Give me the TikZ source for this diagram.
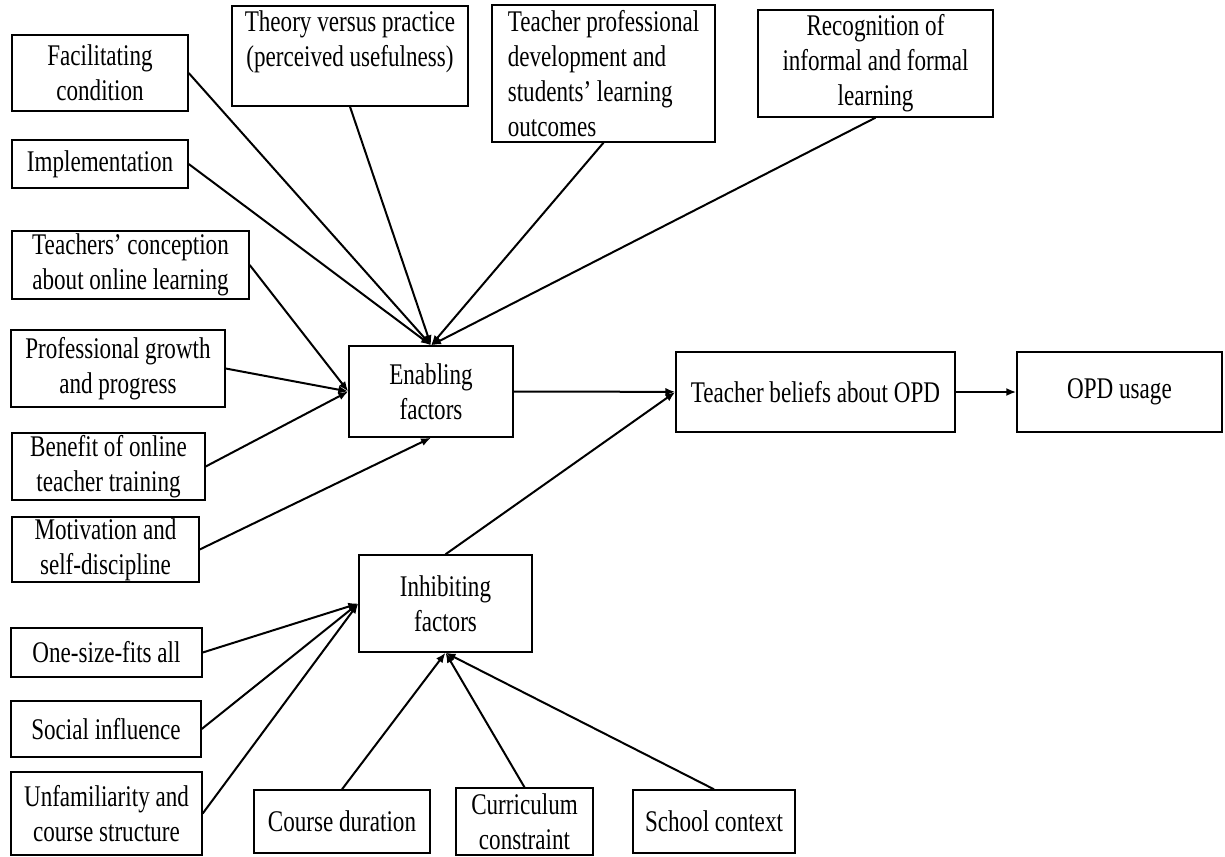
\documentclass[tikz,border=0pt]{standalone}
\usepackage{fontspec}
\setmainfont{Liberation Serif}[FakeStretch=0.77]
\usetikzlibrary{arrows.meta,positioning}
\tikzset{
  box/.style={draw, line width=0.7pt, inner sep=0pt, align=center,
    font=\fontsize{15}{17.5}\selectfont},
}
\begin{document}
\begin{tikzpicture}[x=0.5pt,y=-0.5pt,>={Latex[length=5pt,width=4pt]},line width=1pt]
  \useasboundingbox (0,0) rectangle (1225,856);
  % enabling side
  \node[box,minimum width=88pt,minimum height=38pt] (fac) at (100,73) {Facilitating\\condition};
  \node[box,minimum width=88pt,minimum height=24pt] (imp) at (100,164) {Implementation};
  \node[box,minimum width=118.5pt,minimum height=34pt] (conc) at (130.5,265) {Teachers' conception\\about online learning};
  \node[box,minimum width=107pt,minimum height=38.5pt] (prof) at (118,368.5) {Professional growth\\and progress};
  \node[box,minimum width=96.5pt,minimum height=33.5pt] (ben) at (108.5,466.5) {Benefit of online\\teacher training};
  \node[box,minimum width=93.5pt,minimum height=32.5pt] (mot) at (105.5,549.5) {Motivation and\\self-discipline};
  \node[box,minimum width=118pt,minimum height=50pt] (theory) at (350,56) {Theory versus practice\\(perceived usefulness)\\\mbox{}};
  \node[box,minimum width=111.5pt,minimum height=68.5pt,align=left] (tpd) at (603.5,73.5) {Teacher professional\\development and\\students' learning\\outcomes};
  \node[box,minimum width=117.5pt,minimum height=53.5pt] (recog) at (875.5,63.5) {Recognition of\\informal and formal\\learning};
  \node[box,minimum width=82pt,minimum height=45.5pt] (enab) at (431,391.5) {Enabling\\factors};
  \node[box,minimum width=139.5pt,minimum height=40pt] (tb) at (815.5,392) {Teacher beliefs about OPD};
  \node[box,minimum width=102.5pt,minimum height=40pt] (opd) at (1119.5,392) {OPD usage};
  % inhibiting side
  \node[box,minimum width=86.5pt,minimum height=48.5pt] (inhib) at (445.5,603.5) {Inhibiting\\factors};
  \node[box,minimum width=95.5pt,minimum height=24.5pt] (one) at (106.5,652.5) {One-size-fits all};
  \node[box,minimum width=95pt,minimum height=28pt] (soc) at (106,729) {Social influence};
  \node[box,minimum width=95.5pt,minimum height=41.5pt] (unf) at (106.5,813.5) {Unfamiliarity and\\course structure};
  \node[box,minimum width=88pt,minimum height=31.5pt] (cdur) at (342,821.5) {Course duration};
  \node[box,minimum width=68.5pt,minimum height=33.5pt] (curr) at (524.5,821.5) {Curriculum\\constraint};
  \node[box,minimum width=81pt,minimum height=31.5pt] (school) at (714,821.5) {School context};
  \path[->]
    (fac.east) edge (enab.north)
    (imp.east) edge (enab.north)
    (theory.south) edge (enab.north)
    (tpd.south) edge (enab.north)
    (recog.south) edge (enab.north)
    (conc.east) edge (enab.west)
    (prof.east) edge (enab.west)
    (ben.east) edge (enab.west)
    (mot.east) edge (enab.south)
    (enab) edge (tb)
    (tb) edge (opd)
    (inhib.north) edge (tb.west)
    (one.east) edge (inhib.west)
    (soc.east) edge (inhib.west)
    (unf.east) edge (inhib.west)
    (cdur.north) edge (inhib.south)
    (curr.north) edge (inhib.south)
    (school.north) edge (inhib.south);
\end{tikzpicture}
\end{document}
